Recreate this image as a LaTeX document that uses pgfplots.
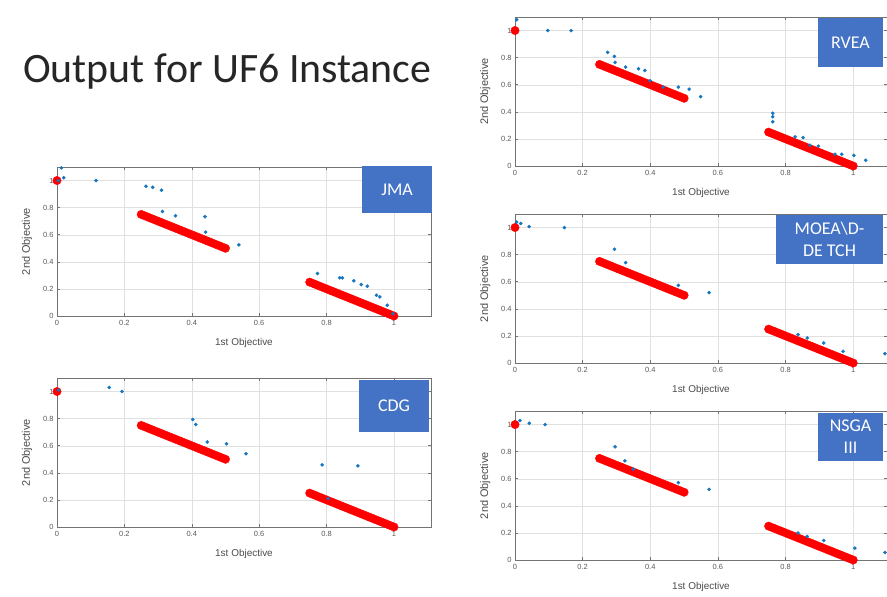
\documentclass[border=0pt]{standalone}
\usepackage{fontspec}
\setmainfont{Carlito}
\newfontfamily\axfont{Liberation Sans}
\usepackage{pgfplots}
\usepackage{pgfplotstable}
\pgfplotsset{compat=1.18}
\definecolor{boxblue}{HTML}{4472C4}
\definecolor{mblue}{RGB}{20,118,192}
\definecolor{titlegray}{HTML}{262626}

\pgfplotstableread{
x y
0 1
0.25 0.75
0.26 0.74
0.27 0.73
0.28 0.72
0.29 0.71
0.30 0.70
0.31 0.69
0.32 0.68
0.33 0.67
0.34 0.66
0.35 0.65
0.36 0.64
0.37 0.63
0.38 0.62
0.39 0.61
0.40 0.60
0.41 0.59
0.42 0.58
0.43 0.57
0.44 0.56
0.45 0.55
0.46 0.54
0.47 0.53
0.48 0.52
0.49 0.51
0.50 0.50
0.75 0.25
0.76 0.24
0.77 0.23
0.78 0.22
0.79 0.21
0.80 0.20
0.81 0.19
0.82 0.18
0.83 0.17
0.84 0.16
0.85 0.15
0.86 0.14
0.87 0.13
0.88 0.12
0.89 0.11
0.90 0.10
0.91 0.09
0.92 0.08
0.93 0.07
0.94 0.06
0.95 0.05
0.96 0.04
0.97 0.03
0.98 0.02
0.99 0.01
1.00 0.00
}\pftable

\pgfplotstableread{
x y
0.013 1.094
0.020 1.020
0.004 1.000
0.116 1.000
0.264 0.958
0.284 0.950
0.310 0.928
0.313 0.772
0.352 0.740
0.439 0.733
0.441 0.619
0.540 0.525
0.773 0.314
0.839 0.282
0.847 0.282
0.881 0.260
0.903 0.233
0.921 0.220
0.948 0.153
0.958 0.141
0.980 0.079
0.997 0.017
}\jmatable

\pgfplotstableread{
x y
0.004 1.010
0.155 1.030
0.193 1.000
0.403 0.794
0.412 0.757
0.446 0.628
0.503 0.615
0.561 0.541
0.787 0.459
0.893 0.452
0.805 0.210
}\cdgtable

\pgfplotstableread{
x y
0.005 1.080
0.097 1.000
0.166 1.000
0.274 0.839
0.294 0.809
0.296 0.765
0.327 0.730
0.365 0.718
0.384 0.705
0.399 0.629
0.438 0.582
0.483 0.582
0.515 0.567
0.549 0.512
0.762 0.389
0.762 0.364
0.762 0.327
0.828 0.215
0.852 0.210
0.872 0.153
0.897 0.146
0.946 0.087
0.966 0.087
1.002 0.079
1.037 0.042
}\rveatable

\pgfplotstableread{
x y
0.005 1.040
0.017 1.030
0.042 1.007
0.146 1.000
0.294 0.840
0.327 0.741
0.483 0.573
0.574 0.519
0.837 0.210
0.864 0.185
0.913 0.148
0.970 0.086
1.094 0.069
}\moeatable

\pgfplotstableread{
x y
0.015 1.030
0.042 1.010
0.089 1.000
0.296 0.836
0.325 0.732
0.350 0.670
0.483 0.571
0.574 0.521
0.837 0.199
0.864 0.174
0.913 0.144
1.005 0.087
1.094 0.055
}\nsgatable

\pgfplotsset{
  uf/.style={
    scale only axis, width=374bp, height=149bp,
    anchor=south west, clip=false,
    xmin=0, xmax=1.11, ymin=0, ymax=1.1,
    xtick={0,0.2,0.4,0.6,0.8,1}, ytick={0,0.2,0.4,0.6,0.8,1},
    grid=major, grid style={black!12, line width=0.4pt},
    axis line style={black!55, line width=0.7pt},
    tick style={black!55, line width=0.5pt}, tick align=inside,
    major tick length=3bp,
    /pgf/number format/assume math mode=true,
    ticklabel style={font=\axfont\fontsize{7.5}{8}\selectfont, text=black!65},
    xticklabel style={yshift=-1bp},
    xlabel={1st Objective}, ylabel={2nd Objective},
    xlabel style={font=\axfont\fontsize{10}{11}\selectfont, text=black!70, at={(axis description cs:0.5,-0.18)}, anchor=center},
    ylabel style={font=\axfont\fontsize{11}{12}\selectfont, text=black!70, at={(axis description cs:-0.08,0.5)}, anchor=center},
  },
  redpf/.style={only marks, mark=*, mark size=4.2bp, color=red, mark options={draw=none, fill=red}},
  bluept/.style={only marks, mark=*, mark size=1.6bp, color=mblue, mark options={draw=none, fill=mblue}},
}

\begin{document}
\begin{tikzpicture}
\fill[white] (0,0) rectangle (887bp,597bp);
\useasboundingbox (0,0) rectangle (887bp,597bp);

\node[anchor=base west, font=\fontsize{42}{48}\selectfont, text=titlegray, inner sep=0] at (23bp,514bp) {Output for UF6 Instance};

% JMA
\begin{axis}[uf, at={(57bp,281bp)}]
\addplot[redpf] table[x=x,y=y] {\pftable};
\addplot[bluept] table[x=x,y=y] {\jmatable};
\end{axis}
% CDG
\begin{axis}[uf, at={(57bp,70bp)}]
\addplot[redpf] table[x=x,y=y] {\pftable};
\addplot[bluept] table[x=x,y=y] {\cdgtable};
\end{axis}
% RVEA
\begin{axis}[uf, at={(515bp,431bp)}, width=372bp, xmax=1.10]
\addplot[redpf] table[x=x,y=y] {\pftable};
\addplot[bluept] table[x=x,y=y] {\rveatable};
\end{axis}
% MOEA
\begin{axis}[uf, at={(515bp,234bp)}, width=372bp, xmax=1.10]
\addplot[redpf] table[x=x,y=y] {\pftable};
\addplot[bluept] table[x=x,y=y] {\moeatable};
\end{axis}
% NSGA
\begin{axis}[uf, at={(515bp,37bp)}, width=372bp, xmax=1.10]
\addplot[redpf] table[x=x,y=y] {\pftable};
\addplot[bluept] table[x=x,y=y] {\nsgatable};
\end{axis}

\tikzset{lbl/.style={fill=boxblue, text=white, font=\fontsize{18}{22}\selectfont, align=center, inner sep=0}}
\node[lbl, minimum width=70bp, minimum height=47bp] at (397bp,407.5bp) {JMA};
\node[lbl, minimum width=70bp, minimum height=52bp] at (394bp,191bp) {CDG};
\node[lbl, minimum width=65bp, minimum height=49bp] at (850.5bp,554.5bp) {RVEA};
\node[lbl, minimum width=107bp, minimum height=49bp] at (829.5bp,357.5bp) {MOEA\textbackslash D-\\DE TCH};
\node[lbl, minimum width=65bp, minimum height=48bp] at (850.5bp,160bp) {NSGA\\III};
\end{tikzpicture}
\end{document}
